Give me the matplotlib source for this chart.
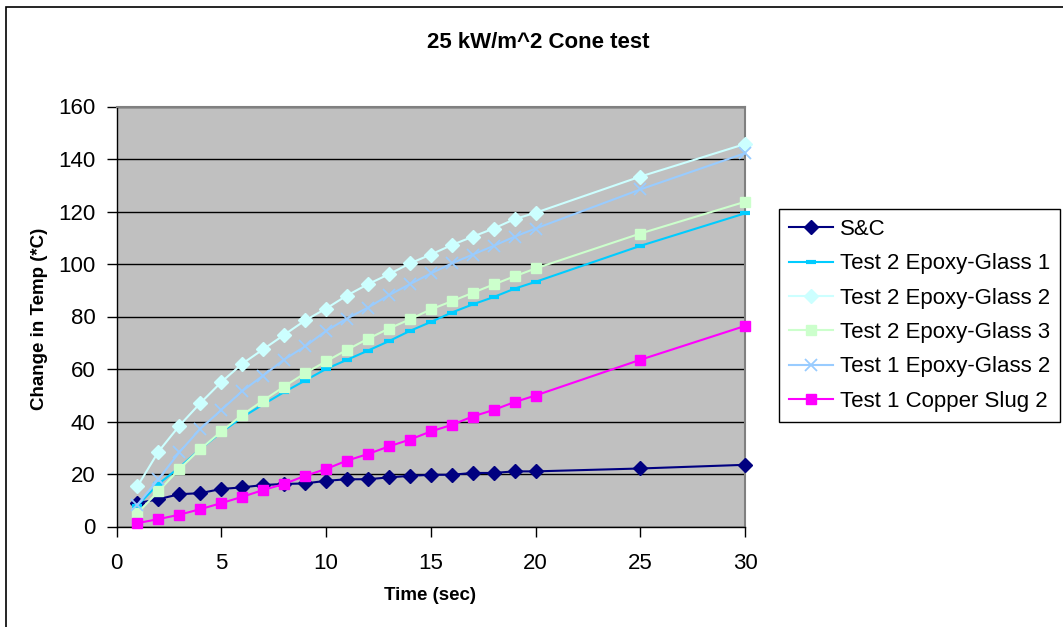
import matplotlib
matplotlib.use("Agg")
import matplotlib.pyplot as plt
from matplotlib.patches import Rectangle

plt.rcParams['font.family'] = ['Liberation Sans', 'DejaVu Sans']

time_s = [1, 2, 3, 4, 5, 6, 7, 8, 9, 10, 11, 12, 13, 14, 15, 16, 17, 18, 19, 20, 25, 30]

sc = [8.9, 10.4, 12.3, 12.7, 14.3, 14.9, 15.8, 16.2, 16.4, 17.4, 18.0, 18.0, 18.7, 19.3,
      19.7, 19.7, 20.4, 20.4, 21.0, 21.0, 22.1, 23.5]
t2_eg1 = [8.0, 16.2, 22.5, 29.5, 35.9, 41.6, 46.5, 51.2, 55.6, 60.0, 63.5, 67.0, 70.6, 74.5,
          77.9, 81.5, 84.6, 87.4, 90.6, 93.2, 106.9, 119.3]
t2_eg2 = [15.3, 28.5, 38.4, 47.0, 55.0, 62.0, 67.5, 73.0, 78.5, 83.0, 88.0, 92.3, 96.1, 100.2,
          103.6, 107.2, 110.4, 113.5, 117.1, 119.5, 133.3, 145.7]
t2_eg3 = [5.1, 13.4, 21.9, 29.5, 36.2, 42.5, 48.0, 53.3, 58.4, 62.9, 67.3, 71.5, 75.4, 78.9,
          82.7, 85.8, 89.0, 92.2, 95.3, 98.3, 111.6, 123.7]
t1_eg2 = [8.3, 18.0, 28.3, 37.2, 44.4, 51.6, 57.5, 63.6, 68.6, 74.5, 79.2, 83.4, 88.1, 92.3,
          96.4, 100.2, 103.6, 106.9, 110.4, 113.5, 128.4, 142.2]
t1_cu = [1.3, 2.8, 4.5, 6.6, 8.9, 11.3, 13.9, 16.2, 19.3, 21.9, 25.1, 27.6, 30.5, 33.1,
         36.2, 38.7, 41.9, 44.4, 47.4, 49.9, 63.5, 76.4]

labels = ["S&C", "Test 2 Epoxy-Glass 1", "Test 2 Epoxy-Glass 2", "Test 2 Epoxy-Glass 3",
          "Test 1 Epoxy-Glass 2", "Test 1 Copper Slug 2"]
x_ticks = [0, 5, 10, 15, 20, 25, 30]
y_ticks = [0, 20, 40, 60, 80, 100, 120, 140, 160]

W, H = 1063, 627
fig = plt.figure(figsize=(W / 100, H / 100), dpi=100)
fig.patch.set_facecolor('white')
ax = fig.add_axes([116.5 / W, 1 - 526.5 / H, (745 - 116.5) / W, (526.5 - 106.5) / H])
ax.set_facecolor('#C0C0C0')

styles = [
    dict(color='#000080', marker='D', ms=7.5, mfc='#000080', mec='#000080'),
    dict(color='#00CCFF', marker='_', ms=7, mew=3, mec='#00CCFF'),
    dict(color='#CCFFFF', marker='D', ms=7.5, mfc='#CCFFFF', mec='#CCFFFF'),
    dict(color='#CCFFCC', marker='s', ms=7, mfc='#CCFFCC', mec='#CCFFCC'),
    dict(color='#99CCFF', marker='x', ms=8, mew=1.3, mec='#99CCFF'),
    dict(color='#FF00FF', marker='s', ms=7, mfc='#FF00FF', mec='#FF00FF'),
]
series = [sc, t2_eg1, t2_eg2, t2_eg3, t1_eg2, t1_cu]
for ys, lab, st in zip(series, labels, styles):
    ax.plot(time_s, ys, label=lab, lw=1.5, clip_on=False, zorder=3, **st)

ax.set_xlim(0, 30)
ax.set_ylim(0, 160)
ax.set_xticks(x_ticks)
ax.set_yticks(y_ticks)
ax.yaxis.grid(True, color='black', lw=1)
ax.set_axisbelow(True)
ax.tick_params(axis='both', direction='out', length=7, width=1, labelsize=16, colors='black')
ax.tick_params(axis='y', pad=8)
ax.tick_params(axis='x', pad=12)
for side in ['left', 'bottom']:
    ax.spines[side].set_color('black')
    ax.spines[side].set_linewidth(1)
for side in ['top', 'right']:
    ax.spines[side].set_color('#808080')
    ax.spines[side].set_linewidth(1.5)

fig.text(538 / W, 1 - 42 / H, "25 kW/m^2 Cone test", ha='center', va='center',
         fontsize=16, fontweight='bold')
fig.text(40 / W, 1 - 319 / H, "Change in Temp (*C)", ha='center', va='center',
         rotation=90, fontsize=13.5, fontweight='bold')
fig.text(430 / W, 1 - 595 / H, "Time (sec)", ha='center', va='center',
         fontsize=13.5, fontweight='bold')

leg = ax.legend(loc='upper left', bbox_to_anchor=(779 / W, 1 - 209 / H),
                bbox_transform=fig.transFigure, borderaxespad=0, fontsize=16,
                frameon=True, fancybox=False, edgecolor='black', framealpha=1,
                handlelength=2.0, handletextpad=0.3, labelspacing=0.6, borderpad=0.45)
leg.get_frame().set_linewidth(1)

fig.patches.append(Rectangle((6 / W, -0.2), 1.5, 1.2 - 7 / H,
                             transform=fig.transFigure, fill=False, edgecolor='black',
                             lw=1.2, figure=fig))

fig.savefig('out.png', dpi=100)
